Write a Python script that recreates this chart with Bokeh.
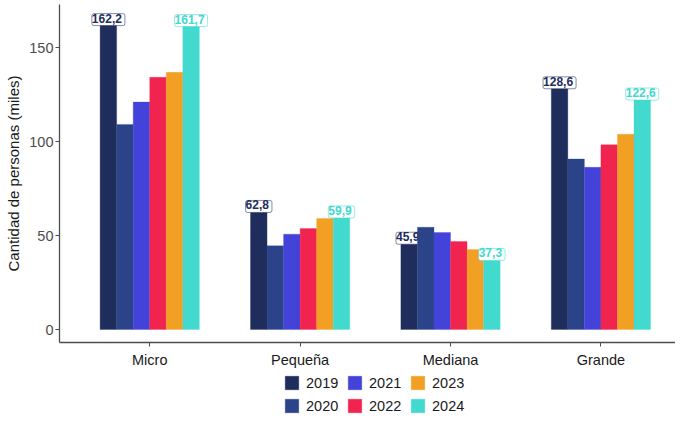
from bokeh.plotting import figure
from bokeh.models import ColumnDataSource, Range1d, FixedTicker, Legend, LegendItem
from bokeh.layouts import column
from bokeh.transform import dodge
from bokeh.core.properties import value
from bokeh.embed import file_html
from bokeh.resources import INLINE

categories = ["Micro", "Pequeña", "Mediana", "Grande"]
years = ["2019", "2020", "2021", "2022", "2023", "2024"]
v2019 = [162.2, 62.8, 45.9, 128.6]
v2020 = [109.1, 44.5, 54.4, 90.7]
v2021 = [121.0, 50.7, 51.6, 86.3]
v2022 = [134.2, 53.7, 46.8, 98.3]
v2023 = [136.8, 59.0, 42.6, 103.9]
v2024 = [161.7, 59.9, 37.3, 122.6]
colors = ["#1e2d5c", "#2a4389", "#4343d9", "#f1234f", "#f2a024", "#42d9cf"]
labeled_years = ["2019", "2024"]
legend_order = ["2019", "2021", "2023", "2020", "2022", "2024"]

series = dict(zip(years, [v2019, v2020, v2021, v2022, v2023, v2024]))
xpos = [1, 2, 3, 4]

FONT = "Liberation Sans"
BAR_W = 0.11

p = figure(width=675, height=372, output_backend="svg", toolbar_location=None,
           x_range=Range1d(0.4, 4.496), y_range=Range1d(-6.91, 172.9),
           min_border_left=59, min_border_right=0, min_border_top=4, min_border_bottom=30)
p.outline_line_color = None
p.xgrid.visible = False
p.ygrid.visible = False

src = ColumnDataSource(dict(x=xpos, cat=categories, **{"y" + y: series[y] for y in years},
                            **{"t" + y: [f"{v:.1f}".replace(".", ",") for v in series[y]] for y in years}))

for i, (yr, col) in enumerate(zip(years, colors)):
    off = (i - 2.5) * BAR_W
    p.vbar(x=dodge("x", off), top="y" + yr, bottom=0, width=BAR_W, source=src,
           fill_color=col, line_color=col, line_alpha=0.5, line_width=0.6)
    if yr in labeled_years:
        p.text(x=dodge("x", off), y="y" + yr, text="t" + yr, source=src,
               text_align="center", text_baseline="bottom", y_offset=1,
               text_font=value(FONT), text_font_style="bold", text_font_size="12px",
               text_color=col, background_fill_color="white",
               border_line_color=col, border_line_alpha=0.55, border_line_width=1,
               padding=(0, 3, 0, 3), border_radius=2)

p.xaxis.ticker = FixedTicker(ticks=xpos)
p.xaxis.major_label_overrides = {x: c for x, c in zip(xpos, categories)}
p.yaxis.ticker = FixedTicker(ticks=[0, 50, 100, 150])
for ax in (p.xaxis, p.yaxis):
    ax.axis_line_color = "#4d4d4d"
    ax.axis_line_width = 1.3
    ax.major_tick_line_color = "#4d4d4d"
    ax.major_tick_out = 4
    ax.major_tick_in = 0
    ax.minor_tick_line_color = None
    ax.major_label_text_font = FONT
    ax.major_label_text_font_size = "14.5px"
    ax.major_label_standoff = 2
p.xaxis.major_label_standoff = 5
p.xaxis.major_label_text_color = "#1a1a1a"
p.yaxis.major_label_text_color = "#4d4d4d"
p.yaxis.axis_label = "Cantidad de personas (miles)"
p.yaxis.axis_label_text_font = FONT
p.yaxis.axis_label_text_font_size = "15px"
p.yaxis.axis_label_text_font_style = "normal"
p.yaxis.axis_label_text_color = "#1a1a1a"
p.yaxis.axis_label_standoff = 4

# legend strip below the chart
lf = figure(width=675, height=42, output_backend="svg", toolbar_location=None,
            x_range=Range1d(100, 101), y_range=Range1d(0, 1),
            x_axis_location=None, y_axis_location=None,
            min_border_left=0, min_border_right=0, min_border_top=0, min_border_bottom=0)
lf.grid.visible = False
lf.outline_line_color = None
leg_r = {}
for yr, col in zip(years, colors):
    leg_r[yr] = lf.vbar(x="x", top="y" + yr, width=BAR_W, source=src, visible=False,
                        fill_color=col, line_color=col, line_alpha=0.5, line_width=0.6)
items = [LegendItem(label=yr, renderers=[leg_r[yr]]) for yr in legend_order]
legend = Legend(items=items, location=(224, 0), orientation="horizontal", ncols=3,
                glyph_width=17, glyph_height=17, label_standoff=6, spacing=6,
                label_width=34, label_height=17, padding=0, margin=0,
                border_line_color=None, background_fill_alpha=0, inactive_fill_alpha=0,
                label_text_font=FONT, label_text_font_size="14.5px", label_text_color="#1a1a1a")
lf.add_layout(legend)

root = column(p, lf, spacing=0)
open("out.html", "w").write(file_html(root, INLINE))
